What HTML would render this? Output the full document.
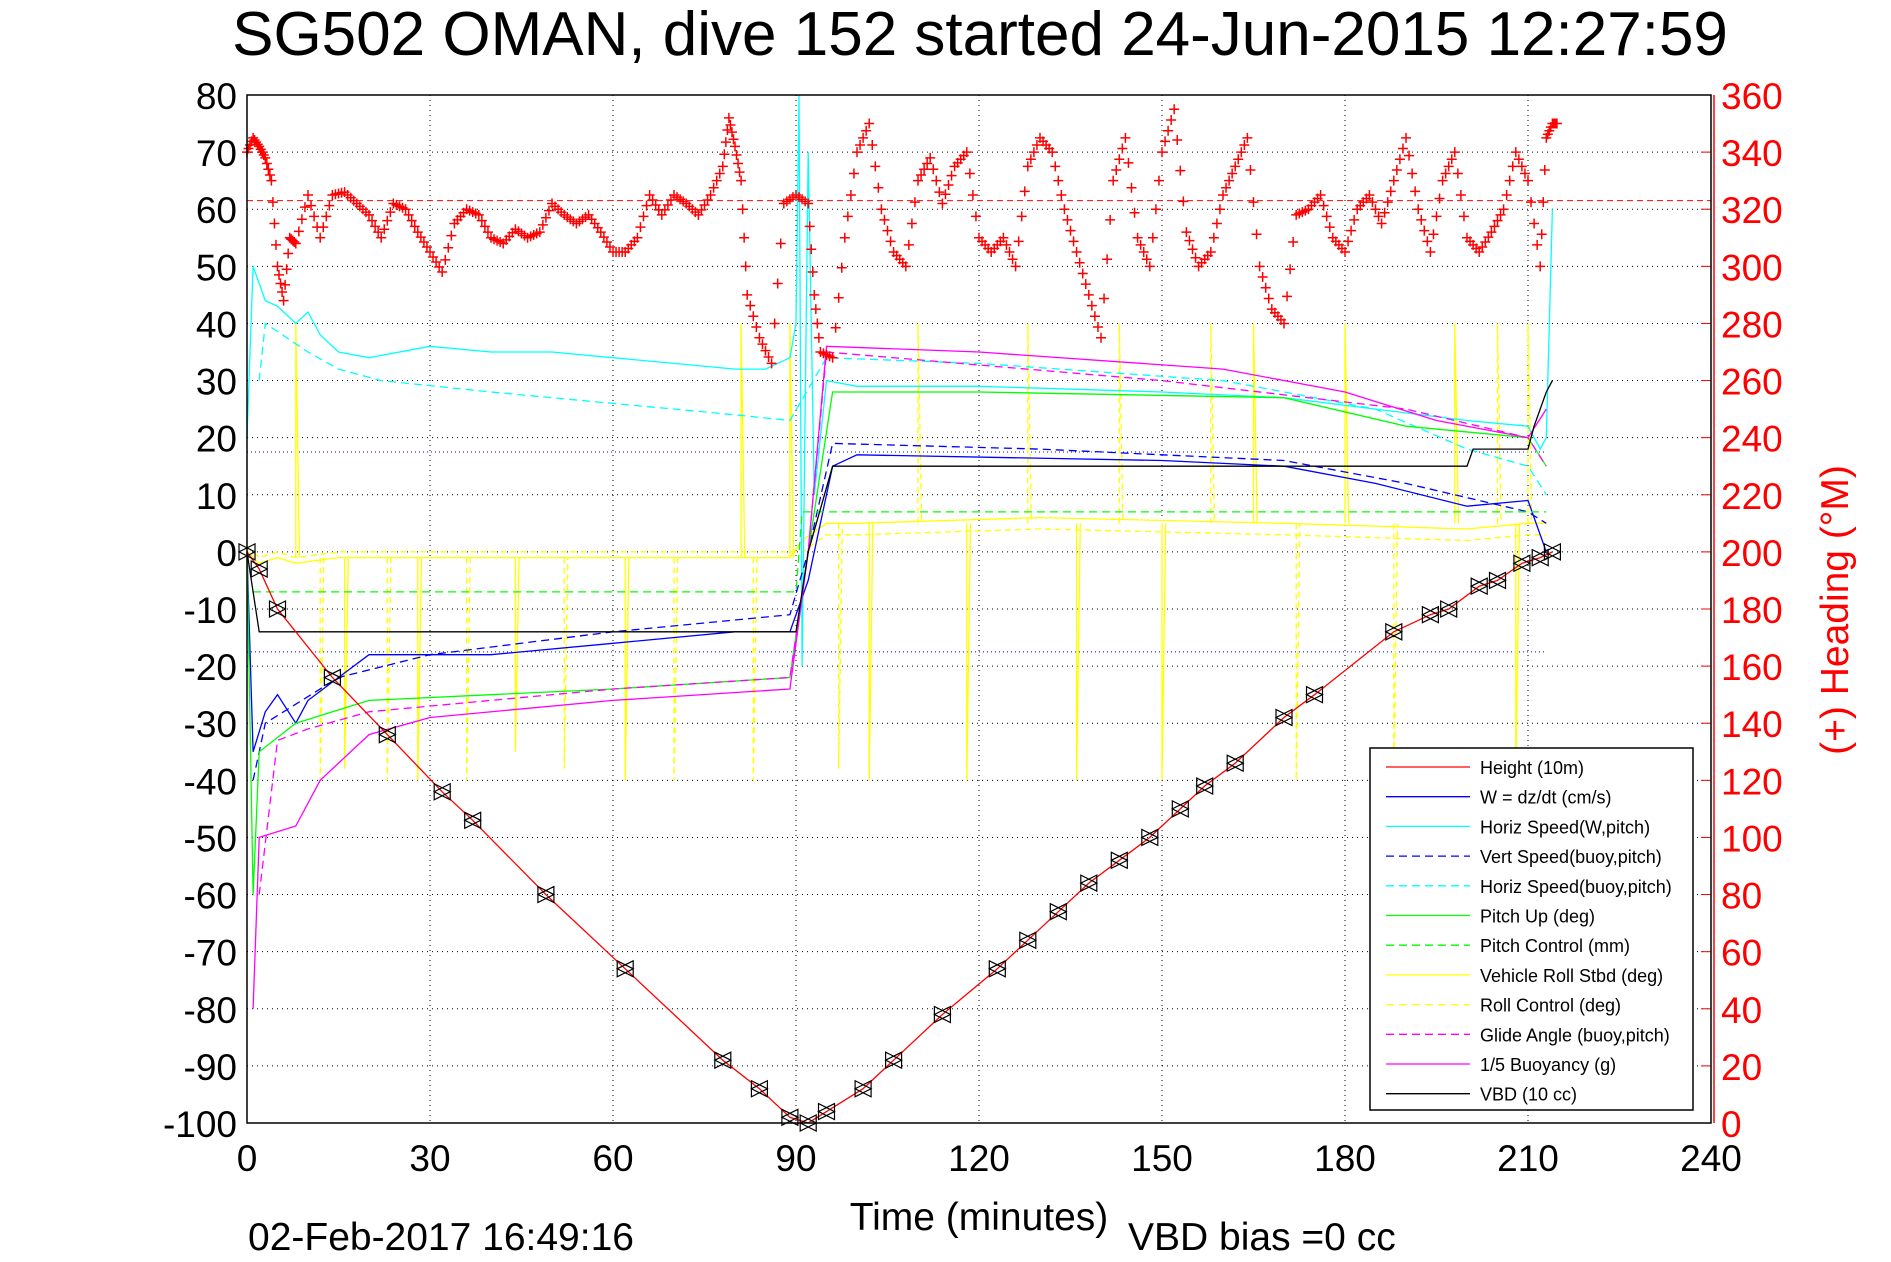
<!DOCTYPE html>
<html><head><meta charset="utf-8"><style>
html,body{margin:0;padding:0;background:#fff;}
svg{display:block;font-family:"Liberation Sans",sans-serif;}
</style></head><body>
<svg id="chart" width="1891" height="1262" viewBox="0 0 1891 1262" xmlns="http://www.w3.org/2000/svg">
<text x="980" y="55" font-size="62" text-anchor="middle">SG502 OMAN, dive 152 started 24-Jun-2015 12:27:59</text>
<g id="grid"></g><g id="series"></g><g id="axes"></g>
<text x="979" y="1230" font-size="39" text-anchor="middle">Time (minutes)</text>
<text x="248" y="1250" font-size="39">02-Feb-2017 16:49:16</text>
<text x="1128" y="1250" font-size="39">VBD bias =0 cc</text>
<text transform="translate(1848,610) rotate(-90)" font-size="39" fill="#f00" text-anchor="middle">(+) Heading (°M)</text>
<g id="legend"></g>
</svg>
<script>
const timeTicks=[0,30,60,90,120,150,180,210,240];
const leftTicks=[80,70,60,50,40,30,20,10,0,-10,-20,-30,-40,-50,-60,-70,-80,-90,-100];
const headTicks=[360,340,320,300,280,260,240,220,200,180,160,140,120,100,80,60,40,20,0];
const headT=[0,1,2,3,4,5,6,7,8,10,12,14,16,18,20,22,24,26,28,30,32,34,36,38,40,42,44,46,48,50,52,54,56,58,60,62,64,66,68,70,72,74,76,78,79,80,81,82,84,86,88,90,92,93,94,96,98,100,102,104,106,108,110,112,114,116,118,120,122,124,126,128,130,132,134,136,138,140,142,144,146,148,150,152,154,156,158,160,162,164,166,168,170,172,174,176,178,180,182,184,186,188,190,192,194,196,198,200,202,204,206,208,210,212,213,214];
const headV=[340,345,342,338,330,300,288,310,308,325,310,325,326,322,318,310,322,320,312,305,298,315,320,318,310,308,313,310,312,322,318,315,318,312,305,305,310,325,318,325,322,318,325,335,352,342,330,290,275,266,322,325,322,290,270,268,310,340,350,320,305,300,330,338,322,335,340,310,305,310,300,335,345,340,320,305,290,275,330,345,310,300,340,355,312,300,305,325,335,345,300,285,280,318,320,325,310,305,320,325,315,330,345,320,305,330,340,310,305,312,320,340,330,300,345,350];
const depthT=[0,2,5,14,23,32,37,49,62,78,84,89,92,95,101,106,114,123,128,133,138,143,148,153,157,162,170,175,188,194,197,202,205,209,212,214];
const depthV=[0,-3,-10,-22,-32,-42,-47,-60,-73,-89,-94,-99,-100,-98,-94,-89,-81,-73,-68,-63,-58,-54,-50,-45,-41,-37,-29,-25,-14,-11,-10,-6,-5,-2,-1,0];
const hsT=[0,1,3,5,8,10,12,15,20,30,40,50,60,70,80,85,89,90,90.5,91,92,93,95,100,120,150,170,185,200,210,212,213,214];
const hsV=[20,50,44,43,40,42,38,35,34,36,35,35,34,33,32,32,34,40,80,-20,70,10,30,29,29,28,27,25,23,22,18,20,60];
const hsbT=[2,3,10,15,22,40,60,80,89,95,120,160,185,200,210,213];
const hsbV=[30,40,35,32,30,28,26,24,23,34,33,30,25,18,15,10];
const wT=[0,1,3,5,8,10,15,20,40,60,80,89,92,96,100,150,170,185,200,210,213];
const wV=[0,-35,-28,-25,-30,-26,-22,-18,-18,-16,-14,-14,-5,15,17,16,15,12,8,9,0];
const vsbT=[1,3,15,30,60,89,92,96,130,170,190,210,213];
const vsbV=[-40,-30,-22,-18,-14,-11,0,19,18,16,12,7,5];
const pitchT=[0,1,2,8,20,40,60,89,92,96,120,170,190,210,213];
const pitchV=[0,-60,-35,-30,-26,-25,-24,-22,0,28,28,27,22,20,15];
const pcT=[1,90,91,95,213];
const pcV=[-7,-7,7,7,7];
const rollT=[0,2,5,8,15,30,60,80,89,91,95,100,130,170,200,210,213];
const rollV=[0,-2,-1,-2,-1,-1,-1,-1,-1,2,5,5,6,5,4,5,5];
const spikeT=[8,12,16,23,28,36,44,52,62,70,81,83,89,97,102,110,118,128,136,143,150,158,165,172,180,188,198,205,208,210];
const spikeV=[40,-40,-38,-40,-40,-40,-35,-38,-40,-40,40,-40,40,-38,-40,40,-40,40,-40,40,-40,40,40,-40,40,-40,40,40,-40,40];
const glT=[2,5,10,20,40,60,89,92,95,150,190,210,213];
const glV=[-60,-33,-31,-28,-26,-24,-22,0,35,30,25,20,15];
const buT=[1,2,8,12,20,30,60,89,92,95,120,160,180,195,210,213];
const buV=[-80,-50,-48,-40,-32,-29,-26,-24,0,36,35,32,28,23,20,25];
const vbdT=[0,2,90,92,96,200,201,210,211,213,214];
const vbdV=[0,-14,-14,0,15,15,18,18,22,28,30];

const X0=247,X1=1711,Y0=95,Y1=1123;
const xs=t=>X0+(t-0)*(X1-X0)/240;
const ys=v=>Y0+(80-v)*(Y1-Y0)/180;
const yh=h=>Y1-h*(Y1-Y0)/360;
const NS='http://www.w3.org/2000/svg';
function mk(tag,attrs,parent){const e=document.createElementNS(NS,tag);for(const k in attrs)e.setAttribute(k,attrs[k]);parent.appendChild(e);return e;}
const grid=document.getElementById('grid'),ser=document.getElementById('series'),ax=document.getElementById('axes'),leg=document.getElementById('legend');
timeTicks.forEach(t=>{
  const l=mk('line',{x1:xs(t),x2:xs(t),y1:Y0,y2:Y1,stroke:'#000','stroke-width':1,'stroke-dasharray':'1,4'},grid);
  
  
  const tx=mk('text',{x:xs(t),y:Y1+48,'font-size':37,'text-anchor':'middle'},ax);tx.textContent=t;
  
  
});
leftTicks.forEach(v=>{
  const l=mk('line',{x1:X0,x2:X1,y1:ys(v),y2:ys(v),stroke:'#000','stroke-width':1,'stroke-dasharray':'1,4'},grid);
  
  
  const tx=mk('text',{x:X0-10,y:ys(v)+14,'font-size':37,'text-anchor':'end'},ax);tx.textContent=v;
  
  
});
headTicks.forEach(h=>{
  const tx=mk('text',{x:X1+10,y:yh(h)+14,'font-size':37,fill:'#f00'},ax);tx.textContent=h;
  
  
  mk('line',{x1:X1-10,x2:X1,y1:yh(h),y2:yh(h),stroke:'#f00'},ax);
});
const frame=mk('rect',{x:X0,y:Y0,width:X1-X0,height:Y1-Y0,fill:'none',stroke:'#000','stroke-width':1.5},ax);


mk('line',{x1:X1+3,x2:X1+3,y1:Y0,y2:Y1,stroke:'#f00','stroke-width':1.5},ax);
function line(T,V,color,dash,name){
  const d=T.map((t,i)=>(i?'L':'M')+xs(t).toFixed(1)+','+ys(V[i]).toFixed(1)).join('');
  const p=mk('path',{d:d,fill:'none',stroke:color,'stroke-width':1.3},ser);
  if(dash)p.setAttribute('stroke-dasharray',dash);
  
  
}
const hd=mk('line',{x1:X0,x2:X1,y1:yh(323),y2:yh(323),stroke:'#f00','stroke-dasharray':'6,4'},ser);


[17.5,-17.5].forEach(v=>{const l=mk('line',{x1:X0,x2:xs(213),y1:ys(v),y2:ys(v),stroke:'#00f','stroke-dasharray':'1,3'},ser);
  
  });
spikeT.forEach((t,i)=>{const base=t<90?-1:5;
  const l=mk('path',{d:`M${xs(t)},${ys(base)}L${xs(t)},${ys(spikeV[i])}L${xs(t+0.6)},${ys(base)}`,fill:'none',stroke:'#ff0','stroke-width':1.3},ser);
  if(i%2)l.setAttribute('stroke-dasharray','6,4');
  
  });
line(rollT,rollV,'#ff0',null,'vehicle-roll-line');
line(rollT,rollV.map(v=>v>0?v-2:v+1),'#ff0','6,4','roll-control-line');
line(hsbT,hsbV,'#0ff','8,5','horiz-speed-buoy-line');
line(hsT,hsV,'#0ff',null,'horiz-speed-line');
line(vsbT,vsbV,'#00f','8,5','vert-speed-buoy-line');
line(wT,wV,'#00f',null,'w-line');
line(pcT,pcV,'#0f0','8,5','pitch-control-line');
line(pitchT,pitchV,'#0f0',null,'pitch-line');
line(glT,glV,'#f0f','8,5','glide-angle-line');
line(buT,buV,'#f0f',null,'buoyancy-line');
line(vbdT,vbdV,'#000',null,'vbd-line');
line(depthT,depthV,'#f00',null,'height-line');
depthT.forEach((t,i)=>{const x=xs(t),y=ys(depthV[i]);
  const m=mk('path',{d:`M${x-8},${y-8}L${x+8},${y}L${x-8},${y+8}ZM${x+8},${y-8}L${x-8},${y}L${x+8},${y+8}Z`,fill:'none',stroke:'#000','stroke-width':1.2},ser);
  
  });
// heading: interpolate a dense track between read points
headT.forEach((t,i)=>{
  const n=i<headT.length-1?headT[i+1]:t+1, nv=i<headT.length-1?headV[i+1]:headV[i];
  let d='';
  for(let k=0;k<4;k++){const f=k/4;const x=xs(t+(n-t)*f),y=yh(headV[i]+(nv-headV[i])*f);
    d+=`M${x-5},${y}H${x+5}M${x},${y-5}V${y+5}`;}
  const m=mk('path',{d:d,stroke:'#f00','stroke-width':1.5},ser);
  
  });
const lb=mk('rect',{x:1370,y:748,width:323,height:362,fill:'#fff',stroke:'#000','stroke-width':1.5},leg);


const items=[['Height (10m)','#f00',0],['W = dz/dt (cm/s)','#00f',0],['Horiz Speed(W,pitch)','#0ff',0],['Vert Speed(buoy,pitch)','#00f',1],['Horiz Speed(buoy,pitch)','#0ff',1],['Pitch Up (deg)','#0f0',0],['Pitch Control (mm)','#0f0',1],['Vehicle Roll Stbd (deg)','#ff0',0],['Roll Control (deg)','#ff0',1],['Glide Angle (buoy,pitch)','#f0f',1],['1/5 Buoyancy (g)','#f0f',0],['VBD (10 cc)','#000',0]];
items.forEach((it,i)=>{const y=767+i*29.7;
  const g=mk('g',{},leg);
  
  
  const l=mk('line',{x1:1386,x2:1470,y1:y,y2:y,stroke:it[1],'stroke-width':1.3},g);
  if(it[2])l.setAttribute('stroke-dasharray','8,5');
  const tx=mk('text',{x:1480,y:y+7,'font-size':18},g);tx.textContent=it[0];});
</script>
</body></html>
